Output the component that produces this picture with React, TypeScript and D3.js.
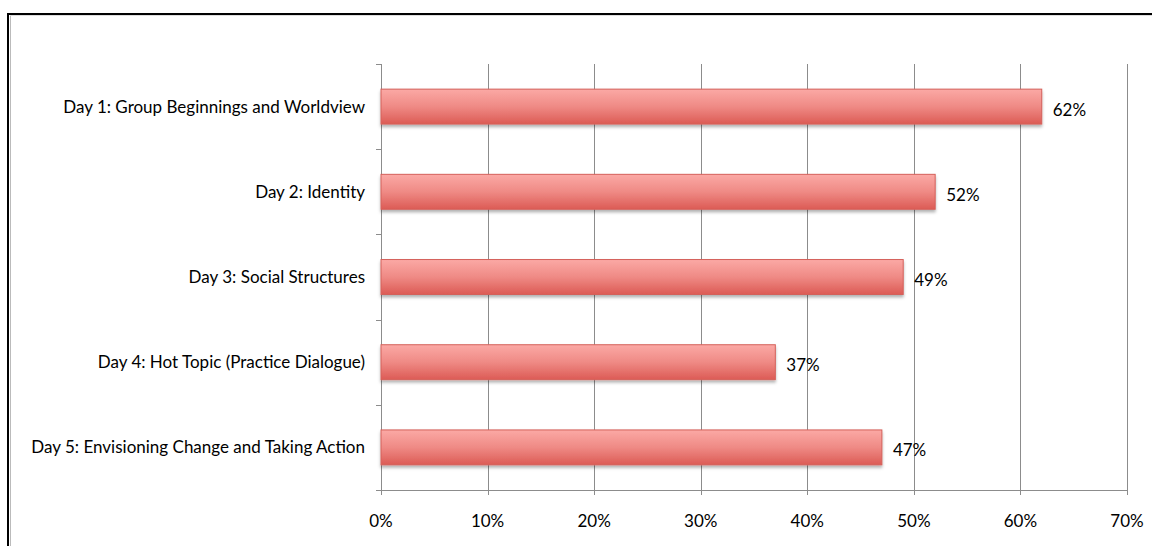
import React from "react";
import * as d3 from "d3";

const categories = [
  "Day 1: Group Beginnings and Worldview",
  "Day 2: Identity",
  "Day 3: Social Structures",
  "Day 4: Hot Topic (Practice Dialogue)",
  "Day 5: Envisioning Change and Taking Action",
];
const values = [0.62, 0.52, 0.49, 0.37, 0.47];
const xTicks = [0, 0.1, 0.2, 0.3, 0.4, 0.5, 0.6, 0.7];

const W = 1152;
const H = 546;
const FONT = "Lato, 'Open Sans', sans-serif";

export default function App() {
  const x = d3.scaleLinear().domain([0, 0.7]).range([381, 1127]);
  const y = d3
    .scaleBand<string>()
    .domain(categories)
    .range([64, 490])
    .paddingInner(0.59)
    .paddingOuter(0.295);
  const step = y.step();
  const top = 64;
  const bottom = 490;
  const fmt = d3.format(".0%");
  const bandEdges = d3.range(categories.length + 1).map((i) => top + i * step);

  return (
    <svg
      width={W}
      height={H}
      style={{ position: "absolute", left: 0, top: 0, background: "#fff" }}
      fontFamily={FONT}
    >
      <defs>
        <linearGradient id="barGrad" x1="0" y1="0" x2="0" y2="1">
          <stop offset="0" stopColor="#fba9a5" />
          <stop offset="0.5" stopColor="#ef8a85" />
          <stop offset="1" stopColor="#dc5b55" />
        </linearGradient>
        <filter id="shadow" x="-5%" y="-20%" width="110%" height="160%">
          <feDropShadow dx="0" dy="2.5" stdDeviation="1.5" floodColor="#000" floodOpacity="0.3" />
        </filter>
      </defs>
      {/* frame */}
      <rect x={8} y={14} width={W + 20} height={H + 20} fill="none" stroke="#000" strokeWidth={2} />
      <line x1={10.5} y1={15} x2={10.5} y2={H} stroke="#bbb" strokeWidth={1} />
      <line x1={10} y1={15.5} x2={W} y2={15.5} stroke="#ddd" strokeWidth={1} />

      {/* vertical gridlines */}
      {xTicks.map((t) => (
        <line
          key={"g" + t}
          x1={Math.round(x(t)) + 0.5}
          x2={Math.round(x(t)) + 0.5}
          y1={top}
          y2={bottom + 5}
          stroke="#8c8c8c"
          strokeWidth={1}
        />
      ))}
      {/* y axis ticks */}
      {bandEdges.map((e, i) => (
        <line
          key={"yt" + i}
          x1={376}
          x2={381}
          y1={Math.round(e) + 0.5}
          y2={Math.round(e) + 0.5}
          stroke="#8c8c8c"
        />
      ))}
      {/* x axis */}
      <line x1={376} x2={Math.round(x(0.7)) + 1} y1={bottom + 0.5} y2={bottom + 0.5} stroke="#8c8c8c" />

      {/* bars */}
      {categories.map((c, i) => (
        <rect
          key={c}
          x={x(0)}
          y={y(c)!}
          width={x(values[i]) - x(0)}
          height={y.bandwidth()}
          fill="url(#barGrad)"
          stroke="#d4605a"
          strokeWidth={1}
          filter="url(#shadow)"
        />
      ))}

      {/* category labels */}
      {categories.map((c) => (
        <text
          key={"l" + c}
          x={365}
          y={y(c)! + y.bandwidth() / 2}
          dy="0.35em"
          textAnchor="end"
          fontSize={17}
          fill="#000"
        >
          {c}
        </text>
      ))}
      {/* value labels */}
      {categories.map((c, i) => (
        <text
          key={"v" + c}
          x={x(values[i]) + 11}
          y={y(c)! + y.bandwidth() / 2 + 3}
          dy="0.35em"
          fontSize={17}
          fill="#000"
        >
          {fmt(values[i])}
        </text>
      ))}
      {/* x tick labels */}
      {xTicks.map((t) => (
        <text key={"xl" + t} x={x(t)} y={521} dy="0.35em" textAnchor="middle" fontSize={17} fill="#000">
          {fmt(t)}
        </text>
      ))}
    </svg>
  );
}
